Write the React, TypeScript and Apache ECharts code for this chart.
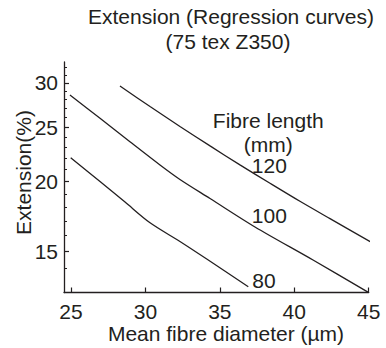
import React, { useEffect, useRef } from "react";
import * as echarts from "echarts";

// Mean fibre diameter (µm) and extension (%)
const diam120 = [28.29, 30.31, 32.32, 34.34, 36.35, 38.37, 40.38, 42.4, 45.1];
const ext120 = [29.62, 27.22, 25.08, 23.15, 21.41, 19.85, 18.43, 17.16, 15.61];
const diam100 = [24.93, 26.95, 28.96, 30.98, 32.32, 34.34, 37.36, 41.26, 44.95];
const ext100 = [28.54, 25.94, 23.55, 21.4, 20.16, 18.64, 16.58, 14.47, 12.68];
const diam80 = [24.98, 26.95, 28.63, 30.31, 32.32, 34.12, 36.91];
const ext80 = [22.05, 19.99, 18.37, 16.87, 15.62, 14.53, 12.96];

const xTicks = [25, 30, 35, 40, 45];
const yMajorTicks = [15, 20, 25, 30];
const yMinorTicks = [14, 16, 17, 18, 19, 21, 22, 23, 24, 26, 27, 28, 29, 31, 32];
const xRange = [24.53, 45];
const yRange = [12.66, 32.7];

const FONT = "'Liberation Sans', Arial, Helvetica, sans-serif";
const INK = "#231f20";

export default function App() {
  const ref = useRef<HTMLDivElement>(null);
  useEffect(() => {
    document.body.style.margin = "0";
    if (!ref.current) return;
    const chart = echarts.init(ref.current, null, { renderer: "svg" });
    const pts = (xs: number[], ys: number[]) => xs.map((x, i) => [x, Math.log(ys[i])]);
    const lineSeries = (name: string, xs: number[], ys: number[]) => ({
      name,
      type: "line",
      data: pts(xs, ys),
      smooth: 0.3,
      symbol: "none",
      clip: false,
      lineStyle: { color: INK, width: 1.3 },
      xAxisIndex: 0,
      yAxisIndex: 0,
    });
    const txt = (text: string, x: number, y: number, extra: any = {}) => ({
      type: "text",
      x,
      y,
      style: {
        text,
        fill: INK,
        font: `21px ${FONT}`,
        textAlign: "center",
        textVerticalAlign: "middle",
        ...extra,
      },
    });
    chart.setOption({
      animation: false,
      grid: { left: 64, right: 17.3, top: 62, bottom: 55.5, containLabel: false },
      xAxis: {
        type: "value",
        min: xRange[0],
        max: xRange[1],
        axisLine: { show: true, lineStyle: { color: INK, width: 1.3 } },
        axisTick: { show: true, inside: true, length: 5, customValues: xTicks, lineStyle: { color: INK, width: 1.2 } },
        axisLabel: {
          customValues: xTicks,
          margin: 8,
          color: INK,
          fontSize: 21,
          fontFamily: FONT,
          formatter: (v: number) => String(Math.round(v)),
        },
        splitLine: { show: false },
      },
      yAxis: [
        {
          type: "value",
          min: Math.log(yRange[0]),
          max: Math.log(yRange[1]),
          position: "left",
          axisLine: { show: true, lineStyle: { color: INK, width: 1.3 } },
          axisTick: {
            show: true,
            inside: true,
            length: 5,
            customValues: yMajorTicks.map((v) => Math.log(v)),
            lineStyle: { color: INK, width: 1.2 },
          },
          axisLabel: {
            customValues: yMajorTicks.map((v) => Math.log(v)),
            margin: 6,
            color: INK,
            fontSize: 21,
            fontFamily: FONT,
            formatter: (v: number) => String(Math.round(Math.exp(v))),
          },
          splitLine: { show: false },
        },
        {
          type: "value",
          min: Math.log(yRange[0]),
          max: Math.log(yRange[1]),
          position: "left",
          offset: 0,
          axisLine: { show: false },
          axisTick: {
            show: true,
            inside: true,
            length: 3,
            customValues: yMinorTicks.map((v) => Math.log(v)),
            lineStyle: { color: INK, width: 1 },
          },
          axisLabel: { show: false },
          splitLine: { show: false },
        },
      ],
      series: [
        lineSeries("120", diam120, ext120),
        lineSeries("100", diam100, ext100),
        lineSeries("80", diam80, ext80),
      ],
      graphic: [
        txt("Extension (Regression curves)", 231, 16),
        txt("(75 tex Z350)", 228, 41),
        txt("Fibre length", 268.3, 120.5),
        txt("(mm)", 268.3, 144.5),
        txt("120", 269.3, 165),
        txt("100", 269.3, 215.5),
        txt("80", 264, 280),
        txt("Mean fibre diameter (\u00b5m)", 226, 333),
        { ...txt("Extension(%)", 23, 172.5), rotation: Math.PI / 2 },
      ],
    });
    return () => chart.dispose();
  }, []);
  return <div ref={ref} style={{ width: 386, height: 348 }} />;
}
